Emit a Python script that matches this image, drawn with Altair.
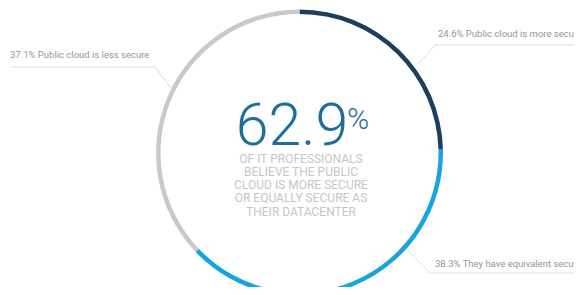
import altair as alt
import pandas as pd

# ---- data ----
categories = ["Public cloud is more secure", "They have equivalent security", "Public cloud is less secure"]
values = [24.6, 38.3, 37.1]
colors = ["#1b3f5e", "#18a4dc", "#c9c9c9"]
headline_lines = [
    "OF IT PROFESSIONALS",
    "BELIEVE THE PUBLIC",
    "CLOUD IS MORE SECURE",
    "OR EQUALLY SECURE AS",
    "THEIR DATACENTER",
]

W, H = 566, 279
CX, CY = 291.5, 145


def px(field):
    return alt.X(field, scale=None, axis=None)


def py(field):
    return alt.Y(field, scale=None, axis=None)


df = pd.DataFrame({"category": categories, "value": values, "ord": list(range(len(values)))})

ring = alt.Chart(df).mark_arc(outerRadius=143.5, innerRadius=139, strokeWidth=0).encode(
    theta=alt.Theta("value:Q", stack=True),
    order=alt.Order("ord:Q"),
    color=alt.Color("category:N", scale=alt.Scale(domain=categories, range=colors), legend=None),
    x=alt.value(CX),
    y=alt.value(CY),
)

# ---- layout (pixel positions of annotations) ----
label_pos = {
    categories[0]: (430, 26),
    categories[1]: (427, 256),
    categories[2]: (2, 47),
}
lab_df = pd.DataFrame({
    "x": [label_pos[c][0] for c in categories],
    "y": [label_pos[c][1] for c in categories],
    "text": [f"{v}% {c}" for c, v in zip(categories, values)],
})
labels = alt.Chart(lab_df).mark_text(
    align="left", baseline="middle", fontSize=9.5, font="Roboto", color="#959595"
).encode(x=px("x:Q"), y=py("y:Q"), text="text:N")

leader_pts = {
    categories[0]: [(574, 37), (427, 37), (410, 56)],
    categories[1]: [(574, 265), (422, 265), (400, 243)],
    categories[2]: [(3, 59), (147, 59), (163, 80)],
}
rows = []
for c, pts in leader_pts.items():
    for i, (lx, ly) in enumerate(pts):
        rows.append({"g": c, "i": i, "x": lx, "y": ly})
lead_df = pd.DataFrame(rows)
leaders = alt.Chart(lead_df).mark_line(color="#dcdcdc", strokeWidth=1).encode(
    x=px("x:Q"), y=py("y:Q"), detail="g:N", order="i:Q",
)

total = round(values[0] + values[1], 1)
big_df = pd.DataFrame({"x": [284], "y": [137], "text": [f"{total}"]})
big = alt.Chart(big_df).mark_text(
    align="center", baseline="alphabetic", fontSize=59, font="Roboto", fontWeight=300, color="#1d6f99"
).encode(x=px("x:Q"), y=py("y:Q"), text="text:N")

pct_df = pd.DataFrame({"x": [339], "y": [121], "text": ["%"]})
pct = alt.Chart(pct_df).mark_text(
    align="left", baseline="alphabetic", fontSize=30, font="Roboto", fontWeight=300, color="#1d6f99"
).encode(x=px("x:Q"), y=py("y:Q"), text="text:N")

sub_df = pd.DataFrame({
    "x": [293] * len(headline_lines),
    "y": [150.5, 163.8, 177.1, 190.4, 203.7],
    "text": headline_lines,
})
sub = alt.Chart(sub_df).mark_text(
    align="center", baseline="middle", fontSize=12, font="Roboto", color="#c6c6c6"
).encode(x=px("x:Q"), y=py("y:Q"), text="text:N")

chart = alt.layer(ring, leaders, labels, big, pct, sub).properties(
    width=W, height=H, padding=0, background="white",
    autosize=alt.AutoSizeParams(type="none"),
).configure_view(strokeWidth=0, stroke="transparent")

chart.save("out.html", embed_options={"renderer": "svg", "actions": False})
